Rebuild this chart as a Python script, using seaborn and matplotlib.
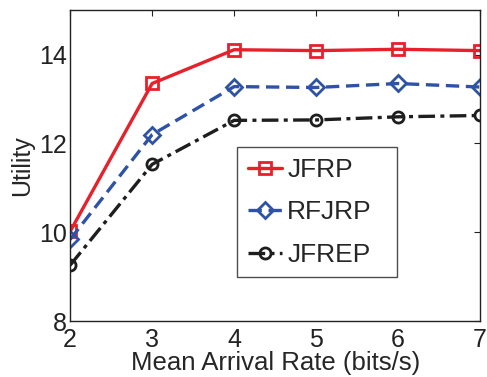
import matplotlib
matplotlib.use("Agg")
import matplotlib.pyplot as plt
import seaborn as sns

# ── Data ──────────────────────────────────────────────────────────────────────
rates = [2, 3, 4, 5, 6, 7]
jfrp = [10.02, 13.35, 14.11, 14.09, 14.12, 14.09]
rfjrp = [9.84, 12.20, 13.28, 13.26, 13.35, 13.27]
jfrep = [9.26, 11.53, 12.52, 12.53, 12.60, 12.63]

sns.set_style("white")
plt.rcParams.update({
    "font.family": ["Liberation Sans", "DejaVu Sans"],
    "xtick.direction": "in",
    "ytick.direction": "in",
    "xtick.top": True,
    "ytick.right": True,
    "axes.edgecolor": "#222222",
    "axes.linewidth": 1.0,
})

fig, ax = plt.subplots(figsize=(4.87, 3.77), dpi=100)

series = [
    ("JFRP", jfrp, "#E8202A", "s", "-"),
    ("RFJRP", rfjrp, "#2D52A8", "D", (0, (4, 2))),
    ("JFREP", jfrep, "#1E1E1E", "o", (0, (5, 1.6, 1.2, 1.6))),
]
for name, vals, clr, mk, ls in series:
    sns.lineplot(x=rates, y=vals, ax=ax, color=clr, marker=mk, linestyle=ls,
                 linewidth=2.4, markersize=8, markerfacecolor="none",
                 markeredgecolor=clr, markeredgewidth=2.0, label=name)

ax.set_xlim(2, 7)
ax.set_ylim(8, 15)
ax.set_xticks(rates)
ax.set_yticks([8, 10, 12, 14])
ax.tick_params(labelsize=18, length=4, width=0.8, colors="#222222")
ax.tick_params(axis="x", pad=5)
ax.tick_params(axis="y", pad=2)
ax.set_xlabel("Mean Arrival Rate (bits/s)", fontsize=18.5, labelpad=-1)
ax.set_ylabel("Utility", fontsize=18, labelpad=4)

leg = ax.legend(loc="lower left", bbox_to_anchor=(0.407, 0.141, 0.39, 0.43),
                mode="expand", borderaxespad=0, fontsize=19,
                frameon=True, fancybox=False, edgecolor="#222222",
                handlelength=1.3, handletextpad=0.2, borderpad=0.4,
                labelspacing=0.7)
leg.get_frame().set_linewidth(1.0)

fig.subplots_adjust(left=0.144, right=0.986, top=0.973, bottom=0.148)
fig.savefig("out.png", dpi=100, facecolor="white")
